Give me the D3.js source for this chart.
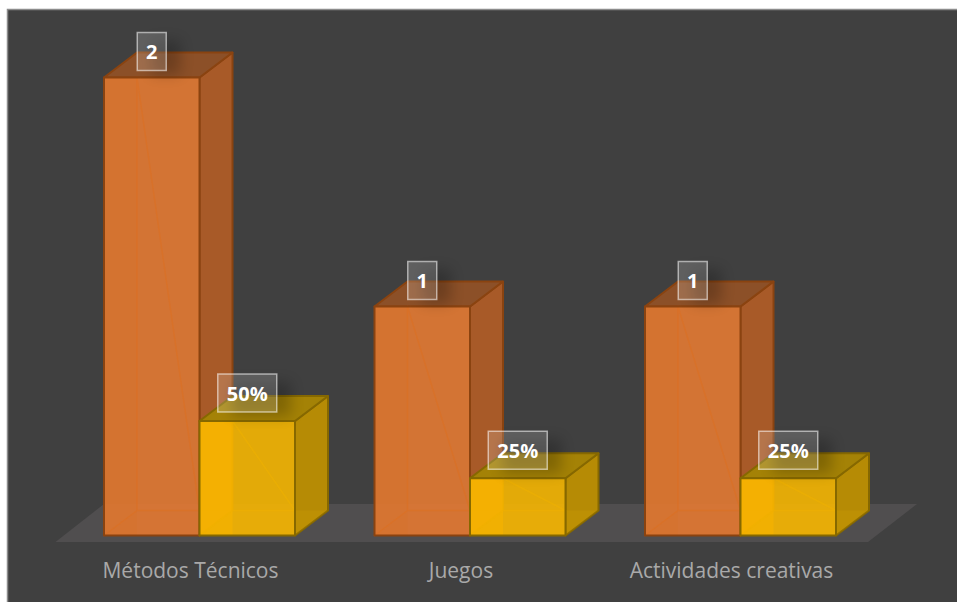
<!DOCTYPE html>
<html><head><meta charset="utf-8">
<script src="https://cdn.jsdelivr.net/npm/d3@7"></script>
<style>html,body{margin:0;padding:0;background:#fff}svg{display:block}</style>
</head><body><svg id="c" width="957" height="602"></svg>
<script>
const categories = ["Métodos Técnicos","Juegos","Actividades creativas"];
const cantidad = [2,1,1];
const porcentaje = [0.5,0.25,0.25];
const seriesNames = ["cantidad","porcentaje"];
const seriesColors = {
  cantidad:{front:"#e37a33",band:"#d7732c",bandO:.35,side:"#a85a28",top:"#8c5028",line:"#8a4310",inner:"#dd7020"},
  porcentaje:{front:"#f5b602",band:"#f7b200",bandO:.65,side:"#b68b05",top:"#a48206",line:"#866800",inner:"#eeb000"}
};
const dx=33, dy=-25;
const svg=d3.select("#c");
const defs=svg.append("defs");
defs.append("filter").attr("id","blur").attr("x","-60%").attr("y","-60%").attr("width","220%").attr("height","220%")
  .append("feGaussianBlur").attr("stdDeviation",7);

svg.append("rect").attr("x",7.5).attr("y",9.5).attr("width",960).attr("height",600)
  .attr("fill","#404040").attr("stroke","#8c8c8c").attr("stroke-width",1.5);

const x0=d3.scaleBand().domain(categories).range([64.25,875.75]);
const x1=d3.scaleBand().domain(seriesNames).range([-95.5,95.5]);
const y=d3.scaleLinear().domain([0,2]).range([535.5,77.5]);

const path=pts=>"M"+pts.map(p=>p.join(",")).join("L")+"Z";
svg.append("path").attr("d",path([[55.5,542],[868,542],[917,504],[104,504]])).attr("fill","#504e4f");

const rows=categories.map((c,i)=>[
  {c,s:"cantidad",v:cantidad[i],t:d3.format("d")(cantidad[i])},
  {c,s:"porcentaje",v:porcentaje[i],t:d3.format(".0%")(porcentaje[i])}
]);
const cxOf=d=>x0(d.c)+x0.bandwidth()/2+x1(d.s);

rows.forEach(row=>row.forEach(d=>{
  const g=svg.append("g");
  const col=seriesColors[d.s];
  const L=cxOf(d), R=L+x1.bandwidth(), T=y(d.v), B=y(0);
  const faces=[
    {pts:[[R,T],[R+dx,T+dy],[R+dx,B+dy],[R,B]],fill:col.side,o:1,s:col.line,so:1,w:2},
    {pts:[[L,T],[R,T],[R+dx,T+dy],[L+dx,T+dy]],fill:col.top,o:1,s:col.line,so:1,w:2},
    {pts:[[L,T],[R,T],[R,B],[L,B]],fill:col.front,o:.9,s:"none",so:0,w:0},
    {pts:[[L,T],[L+dx,T],[L+dx,B],[L,B]],fill:col.band,o:col.bandO,s:"none",so:0,w:0},
    {pts:[[L,B],[R,B],[R+dx,B+dy],[L+dx,B+dy]],fill:col.band,o:.12,s:"none",so:0,w:0},
    {pts:[[L+dx,T],[L+dx,B+dy],[L,B],[L+dx,B+dy],[R,B+dy]],fill:"none",o:0,s:col.inner,so:.55,w:1.5},
    {pts:[[L,T],[R,T],[R,B],[L,B]],fill:"none",o:0,s:col.line,so:1,w:2}
  ];
  g.selectAll("path").data(faces).join("path")
    .attr("d",f=>path(f.pts)).attr("fill",f=>f.fill).attr("fill-opacity",f=>f.o)
    .attr("stroke",f=>f.s).attr("stroke-opacity",f=>f.so).attr("stroke-width",f=>f.w).attr("stroke-linejoin","round");
}));

rows.flat().forEach(d=>{
  const g=svg.append("g");
  const cx=cxOf(d)+x1.bandwidth()/2, cy=y(d.v)-(d.s==="cantidad"?26:28);
  const w=d.s==="cantidad"?29:59, h=38;
  g.append("rect").attr("x",cx-w/2+14).attr("y",cy-h/2+8).attr("width",w).attr("height",h-4)
    .attr("fill","#000").attr("opacity",.22).attr("filter","url(#blur)");
  g.append("rect").attr("x",cx-w/2).attr("y",cy-h/2).attr("width",w).attr("height",h)
    .attr("fill","#fff").attr("fill-opacity",.17).attr("stroke","#fff").attr("stroke-opacity",.55).attr("stroke-width",1.5);
  g.append("text").attr("x",cx).attr("y",cy+7.5).attr("text-anchor","middle")
    .attr("font-family","'Open Sans'").attr("font-weight",700).attr("font-size",20).attr("fill","#fff").text(d.t);
});

svg.append("g").selectAll("text").data(categories).join("text")
  .attr("x",c=>x0(c)+x0.bandwidth()/2-9).attr("y",578).attr("text-anchor","middle")
  .attr("font-family","'Open Sans'").attr("font-size",21).attr("fill","#a9a9a9").text(c=>c);
</script></body></html>
